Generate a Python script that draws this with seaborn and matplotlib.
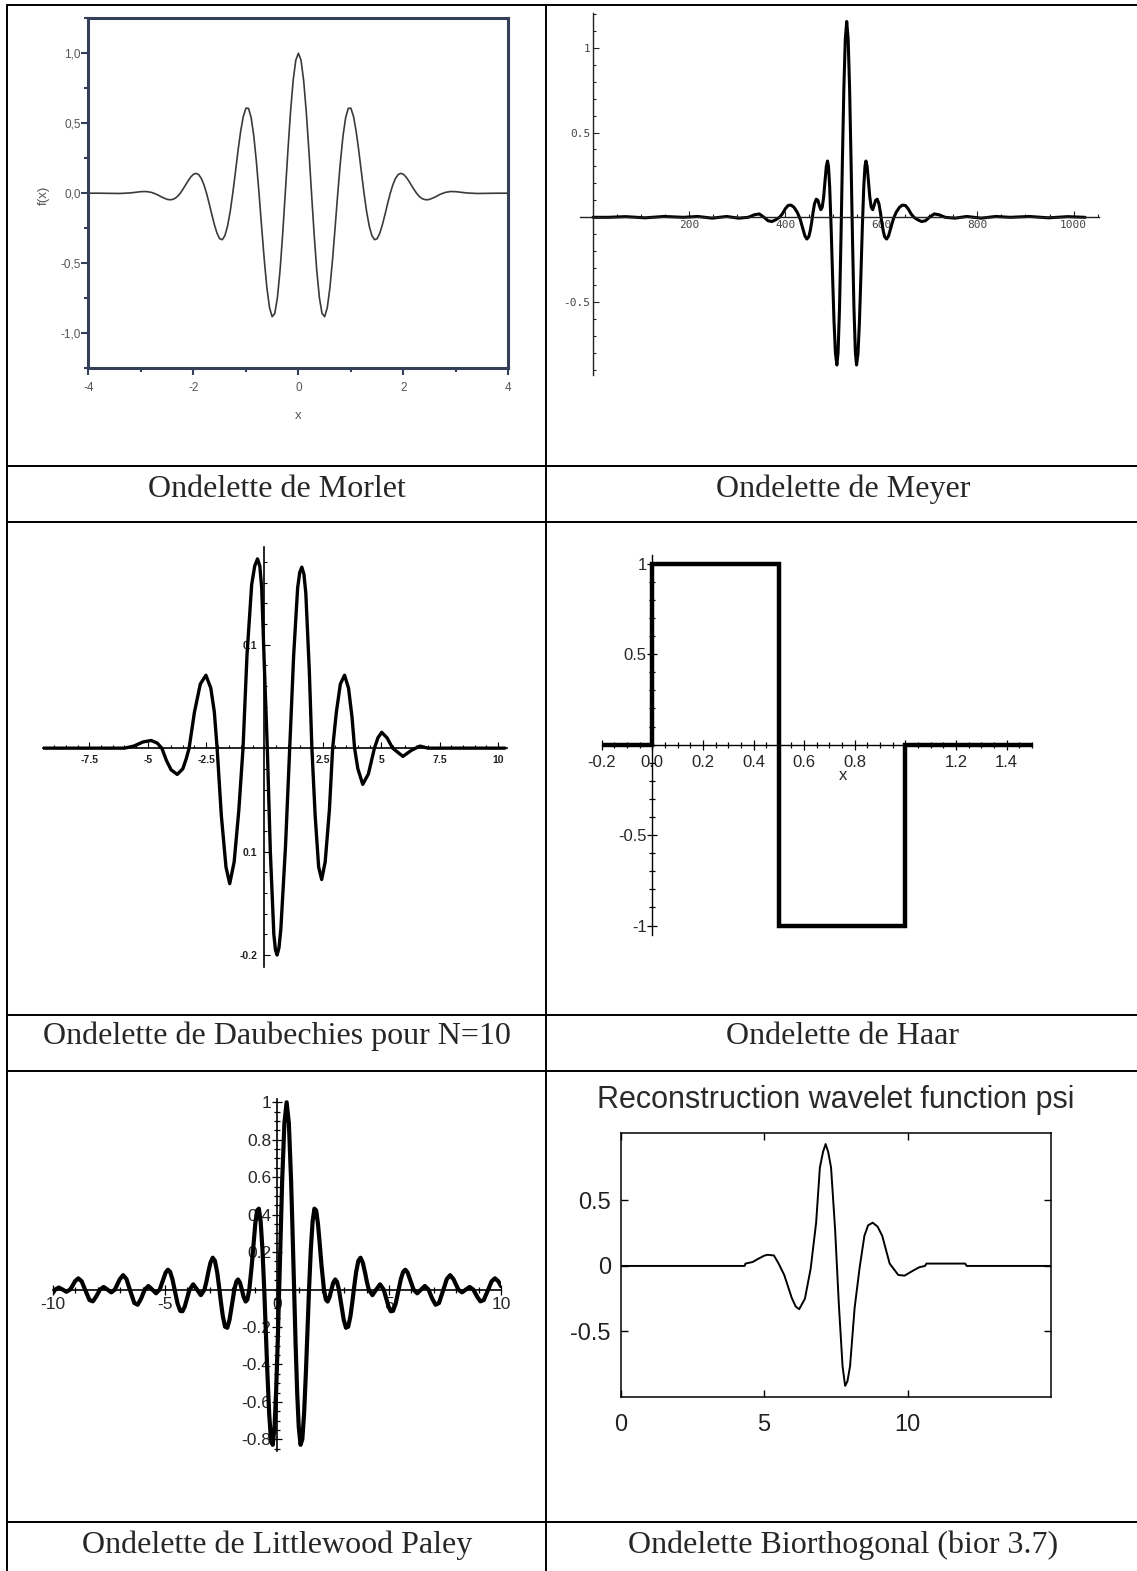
import matplotlib
matplotlib.use("Agg")
import matplotlib.pyplot as plt
from matplotlib.lines import Line2D
from matplotlib.ticker import MultipleLocator
import seaborn as sns

W, H = 1137, 1571

sns.set_style("white")
plt.rcParams['font.family'] = ['Liberation Sans', 'DejaVu Sans']

# ---------------- data ----------------
# Morlet (symmetric, right half)
morlet_half_x = [0, 0.05, 0.1, 0.15, 0.2, 0.25, 0.3, 0.35, 0.4, 0.45, 0.5, 0.55, 0.6, 0.65, 0.7, 0.75,
                 0.8, 0.85, 0.9, 0.95, 1.0, 1.05, 1.1, 1.15, 1.2, 1.25, 1.3, 1.35, 1.4, 1.45, 1.5, 1.55,
                 1.6, 1.65, 1.7, 1.75, 1.8, 1.85, 1.9, 1.95, 2.0, 2.05, 2.1, 2.15, 2.2, 2.25, 2.3, 2.35,
                 2.4, 2.45, 2.5, 2.6, 2.7, 2.8, 2.9, 3.0, 3.2, 3.4, 3.6, 3.8, 4.0]
morlet_half_y = [1.000, 0.950, 0.805, 0.581, 0.303, 0.0, -0.295, -0.553, -0.747, -0.859, -0.882, -0.818,
                 -0.676, -0.476, -0.242, 0.0, 0.224, 0.410, 0.540, 0.606, 0.607, 0.548, 0.442, 0.304,
                 0.150, 0.0, -0.133, -0.236, -0.303, -0.332, -0.325, -0.286, -0.225, -0.151, -0.073, 0.0,
                 0.061, 0.106, 0.133, 0.142, 0.135, 0.116, 0.089, 0.058, 0.028, 0.0, -0.022, -0.037,
                 -0.045, -0.047, -0.044, -0.028, -0.008, 0.006, 0.012, 0.011, 0.002, -0.002, -0.001, 0.0, 0.0]

# Meyer (symmetric about sample 528, offsets from the centre)
meyer_center = 528
meyer_d = [0, 3, 6, 9, 12, 15, 18, 20.5, 23.5, 26.5, 29.5, 32.5, 35.5, 38, 40, 42.5, 45, 48, 51, 54,
           57, 60, 63.5, 67, 70, 73, 76, 79, 83, 87, 92, 97, 103, 110, 116, 122, 128, 134, 140, 148,
           156, 164, 172, 182, 192, 205, 225, 250, 280, 310, 340, 380, 420, 460, 496, 528]
meyer_v = [1.155, 1.05, 0.757, 0.334, -0.127, -0.533, -0.797, -0.871, -0.802, -0.612, -0.342, -0.057,
           0.181, 0.302, 0.332, 0.30, 0.22, 0.12, 0.06, 0.045, 0.07, 0.10, 0.107, 0.08, 0.03, -0.03,
           -0.08, -0.115, -0.128, -0.11, -0.06, -0.01, 0.03, 0.06, 0.072, 0.07, 0.05, 0.02, 0.0, -0.015,
           -0.025, -0.02, 0.0, 0.02, 0.015, 0.0, -0.005, 0.005, -0.005, 0.005, 0.0, 0.005, -0.003,
           0.004, 0.0, 0.0]

# Daubechies N=10
daub_x = [-9.5, -7.0, -6.0, -5.6, -5.2, -4.86, -4.6, -4.4, -4.2, -4.0, -3.74, -3.5, -3.35, -3.23,
          -3.0, -2.75, -2.51, -2.3, -2.15, -2.03, -1.85, -1.65, -1.49, -1.3, -1.1, -0.92, -0.75,
          -0.55, -0.42, -0.30, -0.20, -0.12, 0.0, 0.12, 0.25, 0.40, 0.47, 0.54, 0.62, 0.70, 0.90,
          1.08, 1.25, 1.42, 1.51, 1.60, 1.69, 1.77, 1.92, 2.03, 2.17, 2.32, 2.45, 2.60, 2.78, 2.92,
          3.08, 3.25, 3.43, 3.60, 3.75, 3.86, 4.0, 4.21, 4.45, 4.71, 4.86, 5.02, 5.25, 5.49, 5.93,
          6.3, 6.66, 7.0, 8.0, 10.3]
daub_y = [0.0, 0.0, 0.0, 0.002, 0.006, 0.0074, 0.005, 0.0, -0.012, -0.021, -0.0254, -0.02, -0.01, 0.0,
          0.035, 0.062, 0.0705, 0.058, 0.035, 0.0, -0.065, -0.115, -0.131, -0.11, -0.06, 0.0, 0.09,
          0.158, 0.176, 0.183, 0.176, 0.155, 0.075, 0.0, -0.10, -0.18, -0.195, -0.20, -0.193, -0.175,
          -0.095, 0.0, 0.09, 0.155, 0.170, 0.175, 0.168, 0.15, 0.075, 0.0, -0.065, -0.115, -0.127,
          -0.11, -0.06, 0.0, 0.035, 0.062, 0.0705, 0.058, 0.03, 0.0, -0.02, -0.035, -0.025, 0.0,
          0.01, 0.0153, 0.01, 0.0, -0.008, -0.002, 0.002, 0.0, 0.0, 0.0]

# Haar
haar_x = [-0.2, 0.0, 0.0, 0.5, 0.5, 1.0, 1.0, 1.5]
haar_y = [0, 0, 1, 1, -1, -1, 0, 0]

# Littlewood Paley (symmetric about x = 0.43, offsets from the centre)
lp_center = 0.43
lp_t = [0, 0.1, 0.2, 0.27, 0.333, 0.4, 0.47, 0.54, 0.62, 0.7, 0.78, 0.86, 0.93, 1.0, 1.08, 1.16, 1.24,
        1.32, 1.4, 1.48, 1.56, 1.667, 1.75, 1.83, 1.92, 2.0, 2.08, 2.17, 2.25, 2.333, 2.45, 2.55, 2.65,
        2.75, 2.85, 2.93, 3.0, 3.1, 3.2, 3.3, 3.4, 3.5, 3.58, 3.667, 3.83, 4.0, 4.17, 4.333, 4.45, 4.55,
        4.65, 4.75, 4.87, 5.0, 5.1, 5.2, 5.3, 5.4, 5.52, 5.667, 5.83, 6.0, 6.17, 6.333, 6.5, 6.65, 6.8,
        7.0, 7.15, 7.3, 7.45, 7.667, 7.83, 8.0, 8.17, 8.333, 8.5, 8.65, 8.8, 9.0, 9.15, 9.3, 9.45,
        9.57, 9.667, 9.83, 10.0, 10.17, 10.333, 10.43]
lp_v = [1.0, 0.888, 0.578, 0.285, 0.0, -0.289, -0.548, -0.732, -0.829, -0.800, -0.661, -0.443, -0.221,
        0.0, 0.215, 0.364, 0.432, 0.422, 0.350, 0.241, 0.125, 0.0, -0.053, -0.064, -0.039, 0.0, 0.036,
        0.054, 0.041, 0.0, -0.088, -0.162, -0.204, -0.198, -0.141, -0.070, 0.0, 0.092, 0.153, 0.170,
        0.144, 0.091, 0.043, 0.0, -0.030, 0.0, 0.028, 0.0, -0.049, -0.091, -0.116, -0.114, -0.074, 0.0,
        0.056, 0.094, 0.106, 0.091, 0.050, 0.0, -0.020, 0.0, 0.019, 0.0, -0.049, -0.081, -0.072, 0.0,
        0.056, 0.077, 0.055, 0.0, -0.015, 0.0, 0.014, 0.0, -0.037, -0.063, -0.056, 0.0, 0.044, 0.060,
        0.044, 0.018, 0.0, -0.012, 0.0, 0.011, 0.0, -0.017]

# Biorthogonal bior 3.7
bior_x = [0, 4.32, 4.35, 4.6, 4.8, 5.0, 5.11, 5.34, 5.5, 5.7, 5.96, 6.1, 6.22, 6.42, 6.62, 6.81, 6.94,
          7.05, 7.14, 7.23, 7.33, 7.47, 7.60, 7.73, 7.82, 7.9, 7.99, 8.15, 8.32, 8.49, 8.62, 8.78, 8.95,
          9.11, 9.37, 9.67, 9.89, 10.15, 10.4, 10.6, 10.65, 12.0, 12.05, 15.0]
bior_y = [0, 0, 0.018, 0.03, 0.055, 0.078, 0.085, 0.08, 0.02, -0.069, -0.243, -0.31, -0.33, -0.25,
          -0.02, 0.33, 0.75, 0.87, 0.93, 0.87, 0.75, 0.28, -0.29, -0.766, -0.915, -0.88, -0.766, -0.32,
          -0.02, 0.23, 0.31, 0.33, 0.30, 0.23, 0.018, -0.069, -0.074, -0.04, -0.01, 0.0, 0.018, 0.018,
          0.0, 0.0]

captions = ["Ondelette de Morlet", "Ondelette de Meyer",
            "Ondelette de Daubechies pour N=10", "Ondelette de Haar",
            "Ondelette de Littlewood Paley", "Ondelette Biorthogonal (bior 3.7)"]

# mirrored full curves
morlet_x = [-v for v in morlet_half_x[:0:-1]] + morlet_half_x
morlet_y = morlet_half_y[:0:-1] + morlet_half_y
meyer_x = [meyer_center - d for d in meyer_d[::-1]] + [meyer_center + d for d in meyer_d[1:] if meyer_center + d <= 1024]
meyer_y = meyer_v[::-1] + [v for d, v in zip(meyer_d[1:], meyer_v[1:]) if meyer_center + d <= 1024]
lp_x = [lp_center - t for t in lp_t[::-1]] + [lp_center + t for t in lp_t[1:] if lp_center + t <= 10.001]
lp_y = lp_v[::-1] + [v for t, v in zip(lp_t[1:], lp_v[1:]) if lp_center + t <= 10.001]

# ---------------- figure ----------------
fig = plt.figure(figsize=(W / 100, H / 100), dpi=100)


def px_axes(x0, y0, x1, y1):
    ax = fig.add_axes([x0 / W, 1 - y1 / H, (x1 - x0) / W, (y1 - y0) / H])
    ax.set_facecolor('none')
    return ax


def fig_line(xs, ys, lw=1.4):
    fig.add_artist(Line2D([x / W for x in xs], [1 - y / H for y in ys], color='black', lw=lw))


def fig_text(x, y, s, **kw):
    fig.text(x / W, 1 - y / H, s, **kw)


def cross_axes(ax, lw=1.0, color='black'):
    # axes drawn through the origin
    for s in ['top', 'right']:
        ax.spines[s].set_visible(False)
    for s in ['left', 'bottom']:
        ax.spines[s].set_position(('data', 0))
        ax.spines[s].set_linewidth(lw)
        ax.spines[s].set_color(color)


def curve(ax, x, y, color='black', lw=2.0, **kw):
    sns.lineplot(x=x, y=y, ax=ax, color=color, linewidth=lw, estimator=None, sort=False, **kw)
    ax.set_xlabel('')
    ax.set_ylabel('')


# table grid
for yy in [5, 466, 522, 1015, 1071, 1522]:
    fig_line([7, 1137], [yy, yy])
for xx in [7, 546]:
    fig_line([xx, xx], [5, 1571])

cap_pos = [(277, 497), (843, 497), (277, 1044), (843, 1044), (277, 1553), (843, 1553)]
for (cx, cy), txt in zip(cap_pos, captions):
    fig_text(cx, cy, txt, ha='center', va='baseline', fontsize=23, family=['Liberation Serif', 'DejaVu Serif'])

# --- Morlet ---
frame = '#34405a'
ax = px_axes(88.4, 18.2, 508.4, 368.2)
curve(ax, morlet_x, morlet_y, color='#3a3a3a', lw=1.2)
ax.set_xlim(-4, 4)
ax.set_ylim(-1.25, 1.25)
for s in ax.spines.values():
    s.set_color(frame)
    s.set_linewidth(2.2)
ax.set_xticks([-4, -2, 0, 2, 4])
ax.set_xticklabels(['-4', '-2', '0', '2', '4'])
ax.set_yticks([-1, -0.5, 0, 0.5, 1])
ax.set_yticklabels(['-1,0', '-0,5', '0,0', '0,5', '1,0'])
ax.xaxis.set_minor_locator(MultipleLocator(1))
ax.yaxis.set_minor_locator(MultipleLocator(0.25))
ax.tick_params(which='both', direction='out', color=frame, width=1.5, bottom=True, left=True,
               top=False, right=False, labelcolor='#555555', labelsize=8.5)
ax.tick_params(axis='x', which='major', length=5, pad=5)
ax.tick_params(axis='y', which='major', length=5, pad=0.5)
ax.tick_params(which='minor', length=3)
fig_text(298, 416, 'x', ha='center', va='center', color='#555555', fontsize=9.5)
fig_text(44, 195, 'f(x)', ha='center', va='center', rotation=90, color='#555555', fontsize=9.5)

# --- Meyer ---
ax = px_axes(579.7, 13, 1099, 375)
curve(ax, meyer_x, meyer_y, lw=2.2)
ax.set_xlim(-27.7, 1053)
ax.set_ylim(-0.93, 1.205)
cross_axes(ax, lw=1.0, color='#222222')
ax.set_xticks([200, 400, 600, 800, 1000])
ax.set_xticklabels(['200', '400', '600', '800', '1000'])
ax.set_yticks([-0.5, 0.5, 1])
ax.set_yticklabels(['-0.5', '0.5', '1'])
ax.xaxis.set_minor_locator(MultipleLocator(50))
ax.yaxis.set_minor_locator(MultipleLocator(0.1))
ax.tick_params(which='both', direction='in', color='#222222', width=0.8, bottom=True, left=True,
               labelcolor='#444444', labelsize=8, labelfontfamily='DejaVu Sans Mono')
ax.tick_params(which='major', length=4, pad=2)
ax.tick_params(which='minor', length=2)

# --- Daubechies ---
ax = px_axes(43, 547.5, 507, 967)
curve(ax, daub_x, daub_y, lw=2.4)
ax.set_xlim(-9.49, 10.39)
ax.set_ylim(-0.2116, 0.194)
cross_axes(ax, lw=1.2)
ax.set_xticks([-7.5, -5, -2.5, 2.5, 5, 7.5, 10])
ax.set_xticklabels(['-7.5', '-5', '-2.5', '2.5', '5', '7.5', '10'])
ax.set_yticks([-0.2, -0.1, 0.1])
ax.set_yticklabels(['-0.2', '0.1', '0.1'])
ax.xaxis.set_minor_locator(MultipleLocator(0.5))
ax.yaxis.set_minor_locator(MultipleLocator(0.02))
ax.tick_params(which='both', direction='in', color='black', width=0.8, bottom=True, left=True,
               labelsize=7.5, labelcolor='#222222')
ax.tick_params(which='major', length=4, pad=5)
ax.tick_params(which='minor', length=2)
for lab in ax.get_xticklabels() + ax.get_yticklabels():
    lab.set_fontweight('bold')

# --- Haar ---
ax = px_axes(601.6, 554.6, 1032, 934.6)
curve(ax, haar_x, haar_y, lw=3.2, solid_joinstyle='miter', solid_capstyle='butt')
ax.set_xlim(-0.2, 1.5)
ax.set_ylim(-1.05, 1.05)
cross_axes(ax, lw=1.0)
ax.set_xticks([-0.2, 0, 0.2, 0.4, 0.6, 0.8, 1.0, 1.2, 1.4])
ax.set_xticklabels(['-0.2', '0.0', '0.2', '0.4', '0.6', '0.8', '', '1.2', '1.4'])
ax.set_yticks([-1, -0.5, 0.5, 1])
ax.set_yticklabels(['-1', '-0.5', '0.5', '1'])
ax.xaxis.set_minor_locator(MultipleLocator(0.05))
ax.yaxis.set_minor_locator(MultipleLocator(0.1))
ax.tick_params(which='both', direction='inout', color='black', width=0.9, bottom=True, left=True,
               labelsize=12)
ax.tick_params(which='major', length=7)
ax.tick_params(which='minor', length=4)
ax.tick_params(axis='x', pad=4)
ax.tick_params(axis='y', pad=0.5)
fig_text(843, 776, 'x', ha='center', va='center', fontsize=12)

# --- Littlewood Paley ---
ax = px_axes(53, 1099, 501, 1451)
curve(ax, lp_x, lp_y, lw=3.0)
ax.set_xlim(-10, 10)
ax.set_ylim(-0.862, 1.0176)
cross_axes(ax, lw=1.2)
ax.set_xticks([-10, -5, 0, 5, 10])
ax.set_xticklabels(['-10', '-5', '0', '5', '10'])
ax.set_yticks([-0.8, -0.6, -0.4, -0.2, 0.2, 0.4, 0.6, 0.8, 1.0])
ax.set_yticklabels(['-0.8', '-0.6', '-0.4', '-0.2', '0.2', '0.4', '0.6', '0.8', '1'])
ax.xaxis.set_minor_locator(MultipleLocator(1))
ax.yaxis.set_minor_locator(MultipleLocator(0.05))
ax.tick_params(which='both', direction='inout', color='black', width=0.9, bottom=True, left=True,
               labelsize=12.5)
ax.tick_params(which='major', length=7)
ax.tick_params(which='minor', length=4)
ax.tick_params(axis='x', pad=2)
ax.tick_params(axis='y', pad=0.5)

# --- Biorthogonal ---
ax = px_axes(620.5, 1133.3, 1051.4, 1397)
curve(ax, bior_x, bior_y, lw=1.4)
ax.set_xlim(0, 15)
ax.set_ylim(-1.0, 1.012)
for s in ax.spines.values():
    s.set_color('black')
    s.set_linewidth(1.1)
ax.set_xticks([0, 5, 10])
ax.set_xticklabels(['0', '5', '10'])
ax.set_yticks([-0.5, 0, 0.5])
ax.set_yticklabels(['-0.5', '0', '0.5'])
ax.tick_params(which='major', direction='in', length=5, width=1, color='black', bottom=True, left=True,
               top=True, right=True, labelsize=17, labelcolor='#222222')
ax.tick_params(axis='x', pad=12)
ax.tick_params(axis='y', pad=7)
fig_text(836, 1108, 'Reconstruction wavelet function psi', ha='center', va='baseline', fontsize=22,
         color='#2a2a2a', family=['Liberation Sans', 'DejaVu Sans'])

fig.savefig('out.png', dpi=100, facecolor='white')
